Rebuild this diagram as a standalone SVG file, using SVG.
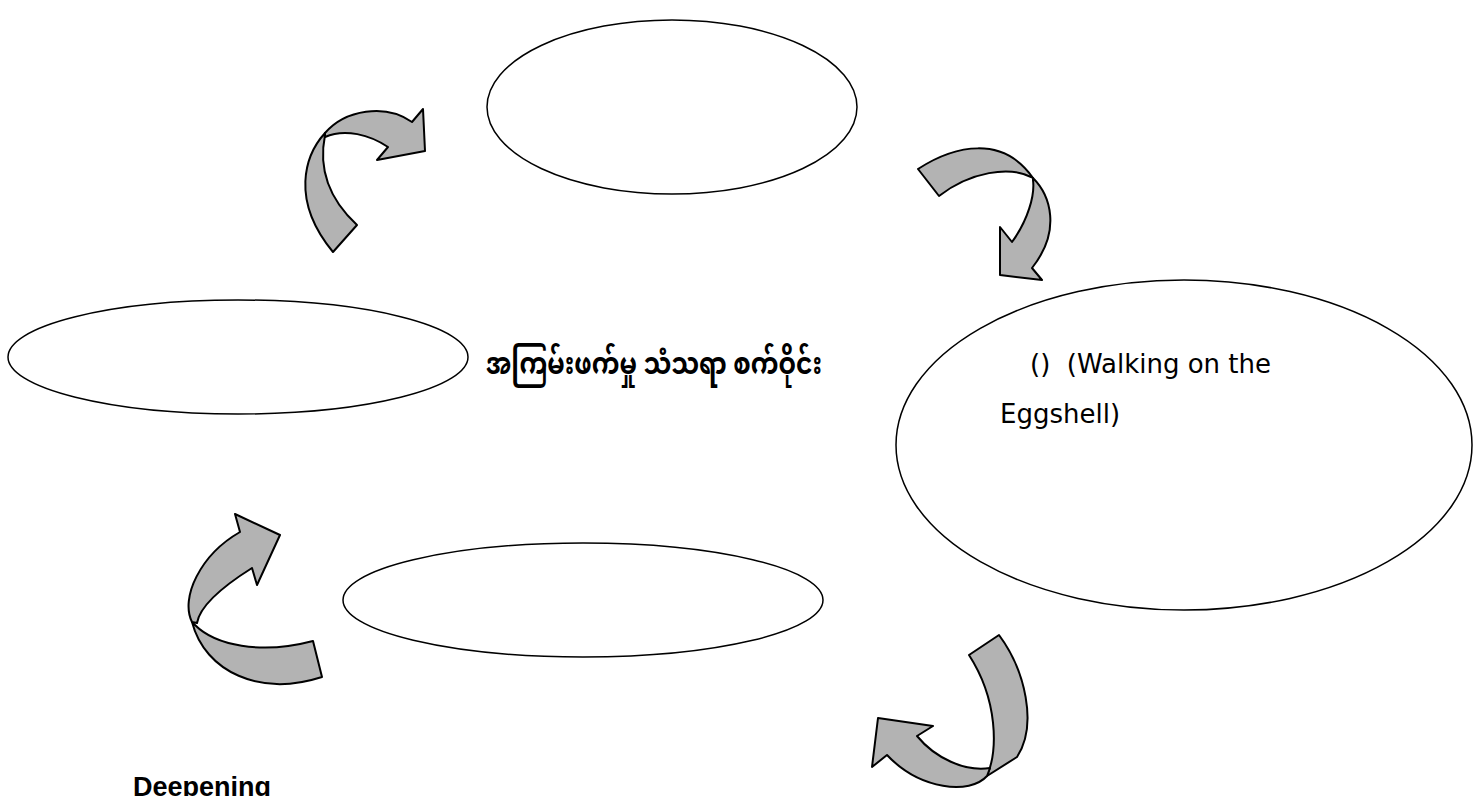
<svg xmlns="http://www.w3.org/2000/svg" width="1476" height="796" viewBox="0 0 1476 796">
<style>
.node{fill:#ffffff;stroke:#000000;stroke-width:1.5}
.arr{fill:#b3b3b3;stroke:#000000;stroke-width:2;stroke-linejoin:round}
.lbl{font-family:"DejaVu Sans","Liberation Sans",sans-serif;font-size:26px;fill:#000000}
.foot{font-family:"Liberation Sans",Arial,sans-serif;font-size:27px;font-weight:bold;fill:#000000}
.my{font-family:"Noto Sans Myanmar","Padauk","Myanmar Text","Noto Sans","DejaVu Sans",sans-serif;font-size:30px;font-weight:bold;fill:#000000}
</style>
<rect width="1476" height="796" fill="#ffffff"/>
<g id="node-top"><ellipse class="node" cx="672" cy="107" rx="185" ry="87"/></g>
<g id="node-left"><ellipse class="node" cx="238" cy="357" rx="230" ry="57"/></g>
<g id="node-right"><ellipse class="node" cx="1184" cy="445" rx="288" ry="165"/>
<text class="lbl" x="1030" y="373" xml:space="preserve">()  (Walking on the</text>
<text class="lbl" x="1000" y="423">Eggshell)</text></g>
<g id="node-bottom"><ellipse class="node" cx="583" cy="600" rx="240" ry="57"/></g>
<g id="title"><text class="my" x="486" y="374" textLength="336" lengthAdjust="spacingAndGlyphs">အကြမ်းဖက်မှု သံသရာ စက်ဝိုင်း</text></g>
<g id="footer"><text class="foot" x="133" y="796">Deepening</text></g>
<g id="connectors">
<g id="arrow-1">
<path class="arr" d="M325,133 C305,155 290,200 333,252 L357,225 C330,200 318,170 325,135 Z"/>
<path class="arr" d="M325,133 C345,110 385,103 412,122 L423,109 L425,151 L377,160 L388,147 C370,135 345,128 325,137 Z"/>
</g>
<g id="arrow-2">
<path class="arr" d="M1033,178 C1050,195 1062,230 1032,268 L1042,280 L1000,275 L1000,227 L1012,242 C1028,220 1035,195 1033,180 Z"/>
<path class="arr" d="M918,169 C955,145 1003,135 1033,178 C1010,165 970,172 939,196 Z"/>
</g>
<g id="arrow-3">
<path class="arr" d="M192,622 C205,672 260,697 322,677 L313,641 C260,655 215,645 195,625 Z"/>
<path class="arr" d="M240,532 L235,514 L280,535 L257,585 L252,568 C225,585 200,605 197,623 L192,622 C180,598 200,555 240,532 Z"/>
</g>
<g id="arrow-4">
<path class="arr" d="M969,655 L999,635 C1025,670 1038,725 1017,757 L987,776 C998,750 998,700 969,655 Z"/>
<path class="arr" d="M987,776 C970,795 920,790 887,755 L872,767 L878,718 L933,726 L917,736 C935,758 965,772 990,768 Z"/>
</g>
</g>
</svg>
